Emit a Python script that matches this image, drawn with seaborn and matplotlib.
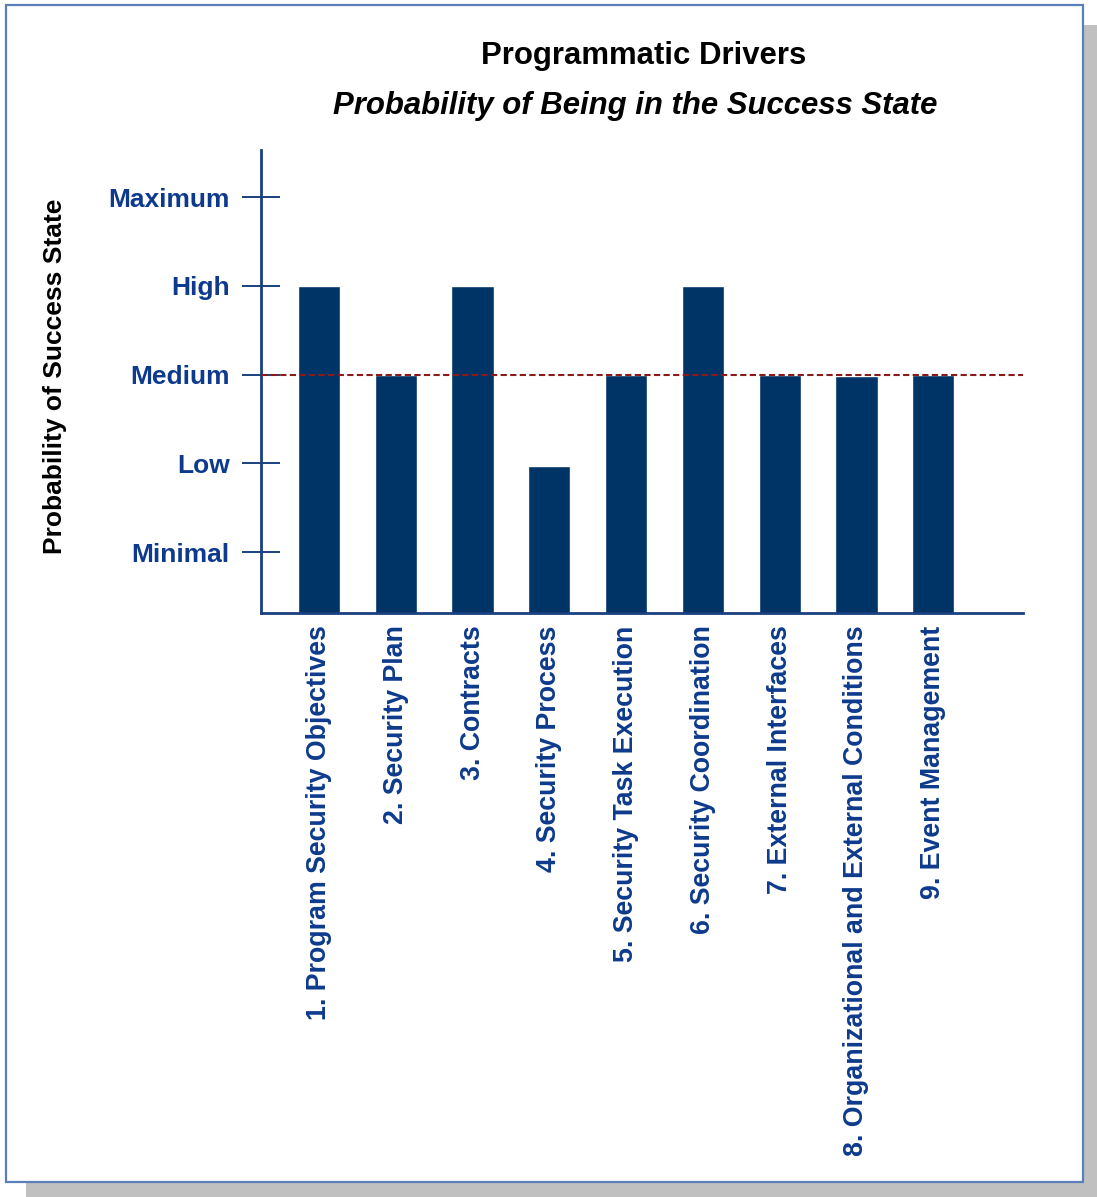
import matplotlib
matplotlib.use('Agg')
import matplotlib.pyplot as plt
import seaborn as sns
import pandas as pd
from matplotlib.patches import Rectangle

drivers = ['1. Program Security Objectives', '2. Security Plan', '3. Contracts',
           '4. Security Process', '5. Security Task Execution',
           '6. Security Coordination', '7. External Interfaces',
           '8. Organizational and External Conditions', '9. Event Management']
scores = [4, 3, 4, 1.97, 3, 4, 3, 2.98, 3]
levels = [1, 2, 3, 4, 5]
level_names = ['Minimal', 'Low', 'Medium', 'High', 'Maximum']
threshold = 3

sns.set_style('white')
plt.rcParams['font.family'] = ['Liberation Sans', 'DejaVu Sans']

bar_color = '#003366'
axis_color = '#1a4080'
label_color = '#0d3a8c'

W, H = 1097, 1197
fig = plt.figure(figsize=(W / 100, H / 100), dpi=100)

# frame with drop shadow
fig.patches.append(Rectangle((26 / W, 0), 1 - 26 / W, 1 - 25 / H, transform=fig.transFigure,
                             facecolor='#c0c0c0', edgecolor='none', zorder=-3))
fig.patches.append(Rectangle((6 / W, 1 - 1182 / H), 1077 / W, 1177 / H, transform=fig.transFigure,
                             facecolor='white', edgecolor='#5b7fb8', linewidth=1.6, zorder=-2))

ax = fig.add_axes([261 / W, 1 - 613 / H, 762 / W, 463 / H])
ax.set_facecolor('none')

df = pd.DataFrame({'driver': drivers, 'score': scores})
sns.barplot(data=df, x='driver', y='score', color=bar_color, saturation=1,
            width=0.55, ax=ax, zorder=2)
ax.axhline(threshold, color='#8b1a1a', linewidth=1.5, linestyle=(0, (3, 1.6)), zorder=3)

ax.set_ylim(0.313, 5.53)
ax.set_xlim(-0.756, 9.17)
ax.set_yticks(levels)
ax.set_yticklabels(level_names)
ax.set_xlabel('')
ax.set_ylabel('Probability of Success State', fontsize=19, fontweight='bold',
              color='black')
ax.yaxis.set_label_coords(-0.255, 0.512)

for s in ['top', 'right']:
    ax.spines[s].set_visible(False)
for s in ['left', 'bottom']:
    ax.spines[s].set_color(axis_color)
    ax.spines[s].set_linewidth(2)

ax.tick_params(axis='y', left=True, direction='inout', length=27, width=1.4,
               color=axis_color, pad=9, labelsize=19, labelcolor=label_color)
ax.tick_params(axis='x', bottom=False, length=0, pad=9, labelsize=19.3,
               labelcolor=label_color)
for t in ax.get_yticklabels():
    t.set_fontweight('bold')
for t in ax.get_xticklabels():
    t.set_fontweight('bold')
    t.set_rotation(90)
    t.set_va('top')
    t.set_ha('center')

fig.text(644 / W, 1 - 56 / H, 'Programmatic Drivers', ha='center', va='center',
         fontsize=22.4, fontweight='bold', color='black')
fig.text(635 / W, 1 - 106 / H, 'Probability of Being in the Success State', ha='center',
         va='center', fontsize=22.4, fontweight='bold', fontstyle='italic', color='black')

fig.savefig('out.png', dpi=100)
